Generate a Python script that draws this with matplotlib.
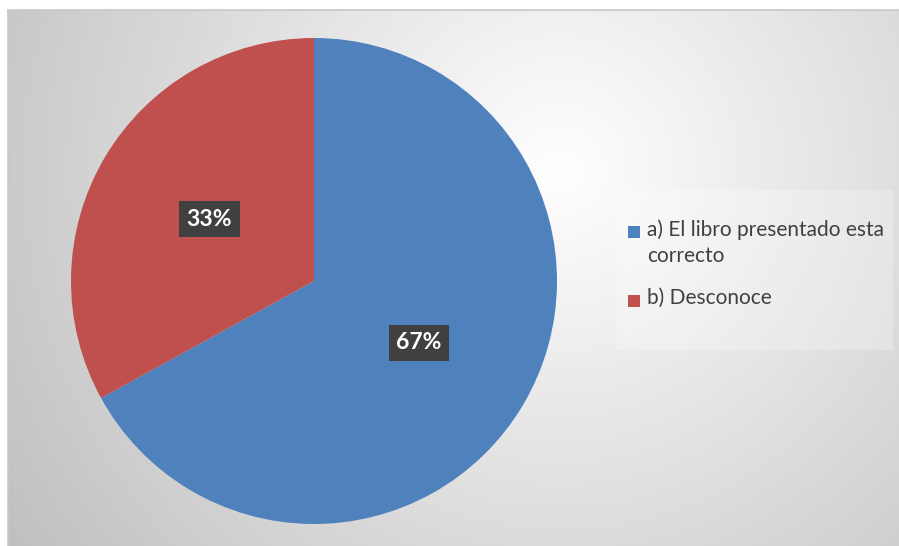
import numpy as np
import matplotlib.pyplot as plt
from matplotlib.patches import Rectangle

# datos del grafico
etiquetas = ['a) El libro presentado esta\ncorrecto', 'b) Desconoce']
valores = [67, 33]
colores = ['#4F81BD', '#C0504D']

W, H = 899, 546
fig = plt.figure(figsize=(W / 100, H / 100), dpi=100)
fig.patch.set_facecolor('white')

# fondo con degradado radial (estilo Excel)
bg = fig.add_axes([8 / W, 0, (W - 8) / W, (H - 10) / H])
yy, xx = np.mgrid[10:H, 8:W]
d = np.hypot(xx - 560, yy - 170)
g = np.clip(255 - 0.095 * d, 190, 255) / 255
img = np.dstack([g, g, g])
bg.imshow(img, aspect='auto', extent=[0, 1, 0, 1], origin='upper')
bg.set_xlim(0, 1)
bg.set_ylim(0, 1)
bg.axis('off')
fig.add_artist(plt.Line2D([8 / W, 1], [1 - 10 / H, 1 - 10 / H], color='#C8C8C8', lw=1.2))
fig.add_artist(plt.Line2D([8 / W, 8 / W], [0, 1 - 10 / H], color='#C8C8C8', lw=1.2))

# pastel
cx, cy, r = 314, 281, 243
ax = fig.add_axes([(cx - r) / W, (H - cy - r) / H, 2 * r / W, 2 * r / H])
wedges, textos, autotextos = ax.pie(
    valores, colors=colores, startangle=90, counterclock=False,
    autopct='%1.0f%%', pctdistance=0.5, radius=1,
    wedgeprops=dict(linewidth=0),
    textprops=dict(family='Lato', fontsize=16.5, fontweight='bold', color='white'))
for t in autotextos:
    t.set_bbox(dict(boxstyle='square,pad=0.32', facecolor='#404040', edgecolor='none'))
ax.set_xlim(-1, 1)
ax.set_ylim(-1, 1)
ax.axis('off')

# leyenda manual
fig.patches.append(Rectangle((617 / W, 1 - 350 / H), 276 / W, 160 / H,
                             transform=fig.transFigure, facecolor='white',
                             alpha=0.25, edgecolor='none'))
filas = [232, 301]
for lab, col, yp in zip(etiquetas, colores, filas):
    fig.patches.append(Rectangle((628 / W, 1 - (yp + 6) / H), 12 / W, 12 / H,
                                 transform=fig.transFigure, facecolor=col,
                                 edgecolor='none'))
    fig.text(647 / W, 1 - (yp - 13) / H, lab, family='Lato', fontsize=15,
             color='#404040', va='top', ha='left', linespacing=1.42)

fig.savefig('out.png', dpi=100)
